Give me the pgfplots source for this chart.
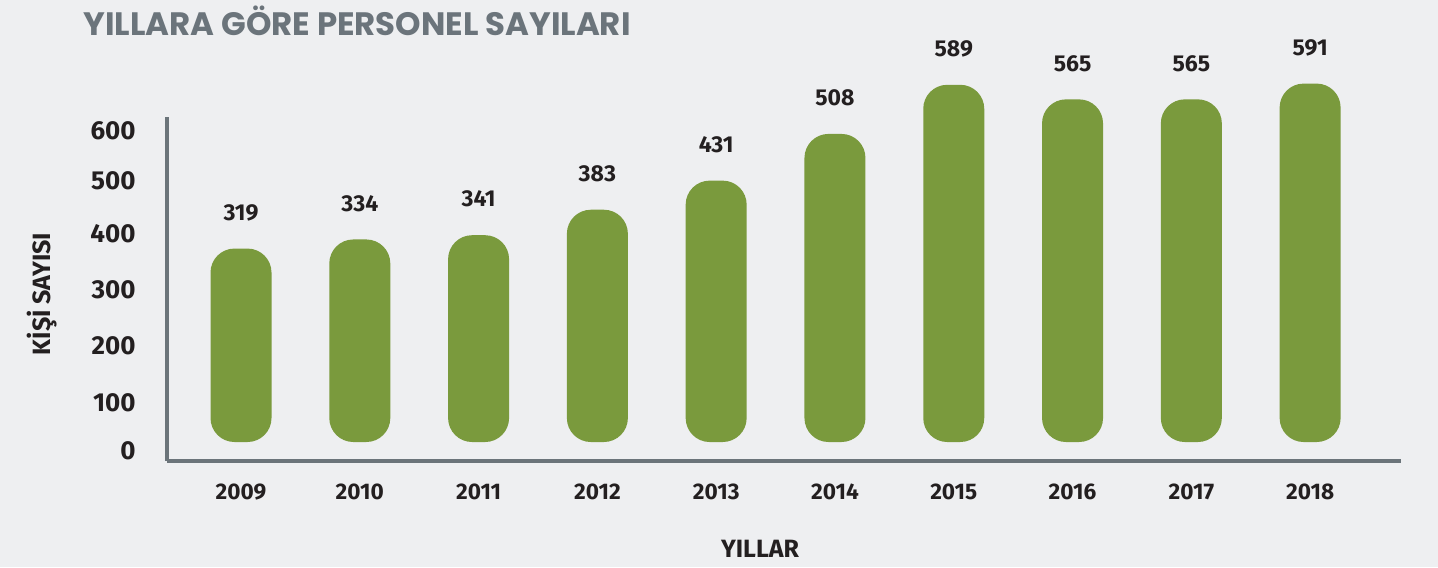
\documentclass[border=0pt]{standalone}
\usepackage{pgfplots}
\pgfplotsset{compat=1.18}
\usepackage{pgfplotstable}
\usetikzlibrary{backgrounds}
\usepackage{fontspec}
\setmainfont{Fira Sans}
\newfontfamily\titlefont{Poppins}
\definecolor{bg}{HTML}{EEEFF1}
\definecolor{bargreen}{HTML}{7A9A3D}
\definecolor{axisgray}{HTML}{6B747A}
\definecolor{titlegray}{HTML}{6B747B}
\definecolor{ink}{HTML}{231F20}

% personel sayilari per year
\pgfplotstableread{
x year value
0 2009 319
1 2010 334
2 2011 341
3 2012 383
4 2013 431
5 2014 508
6 2015 589
7 2016 565
8 2017 565
9 2018 591
}\personel

\begin{document}
\begin{tikzpicture}[x=0.5pt,y=0.5pt]
\begin{axis}[
    scale only axis,
    width=617pt, height=172pt,
    xmin=-0.623, xmax=9.765,
    ymin=-31.3, ymax=535.9,
    axis lines*=left,
    axis line style={axisgray, line width=2pt},
    major tick length=0pt,
    xtick={0,...,9},
    xticklabels={2009,2010,2011,2012,2013,2014,2015,2016,2017,2018},
    ytick={-14.8,64.3,158.3,250.6,343,430.3,512.8},
    yticklabels={0,100,200,300,400,500,600},
    xticklabel style={inner sep=0pt, yshift=-11.25pt, text=ink,
      font=\bfseries\fontsize{11.3}{13}\selectfont},
    yticklabel style={inner sep=0pt, xshift=-15.5pt, text=ink,
      font=\bfseries\fontsize{13}{15}\selectfont},
    /pgf/number format/assume math mode=true,
    clip=false,
  ]
  \addplot[ybar, bar width=30.5pt, fill=bargreen, draw=none, rounded corners=12pt,
    nodes near coords,
    every node near coord/.append style={anchor=center, yshift=18pt, text=ink,
      font=\bfseries\fontsize{11.5}{13}\selectfont}]
    table[x=x, y=value] {\personel};
  \coordinate (axsw) at (rel axis cs:0,0);
\end{axis}

\begin{pgfonlayer}{background}
  \fill[bg] ([shift={(-167,-106)}]axsw) rectangle ([shift={(1271,461)}]axsw);
\end{pgfonlayer}

\node[anchor=base west, inner sep=0pt, text=titlegray,
  font=\titlefont\bfseries\fontsize{16.2}{18}\selectfont] at ([shift={(-84,425)}]axsw)
  {YILLARA GÖRE PERSONEL SAYILARI};
\node[anchor=base, inner sep=0pt, text=ink,
  font=\bfseries\fontsize{12.5}{14}\selectfont] at ([shift={(593,-96)}]axsw) {YILLAR};
\node[rotate=90, inner sep=0pt, text=ink,
  font=\bfseries\fontsize{12.5}{14}\selectfont] at ([shift={(-125,167)}]axsw) {KİŞİ SAYISI};
\end{tikzpicture}
\end{document}
